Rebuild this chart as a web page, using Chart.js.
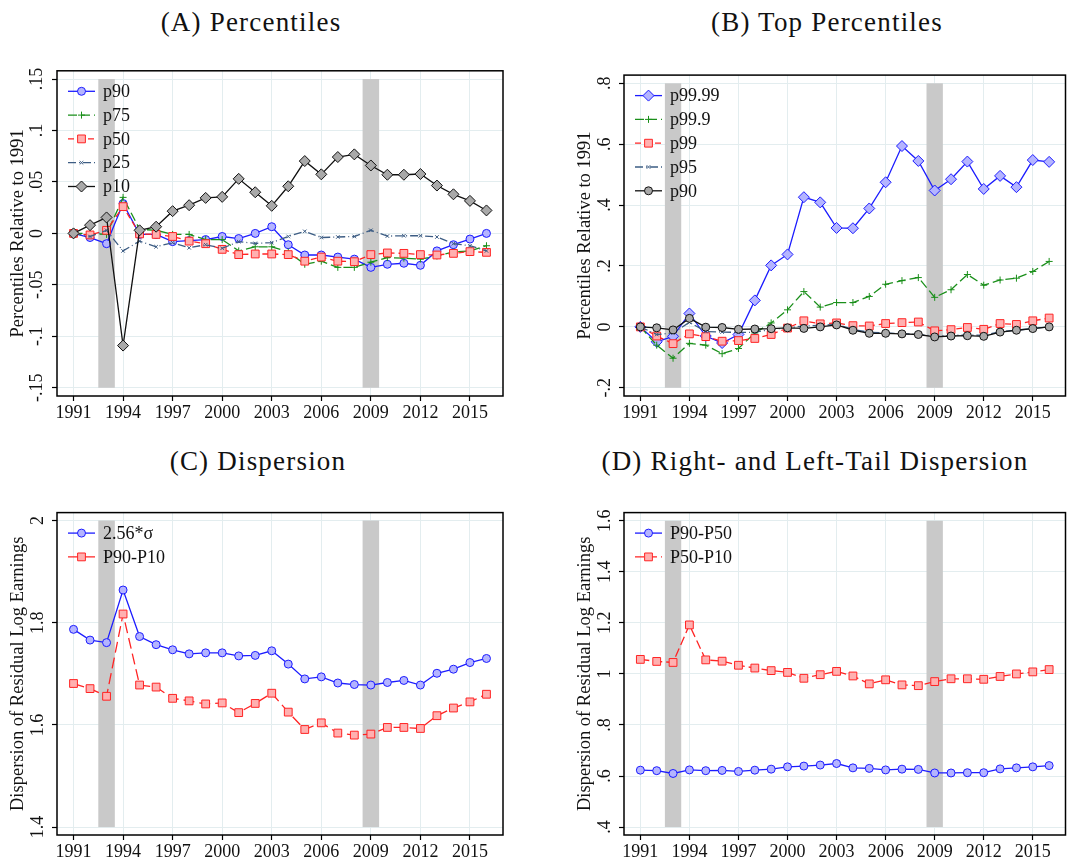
<!DOCTYPE html>
<html>
<head>
<meta charset="utf-8">
<script src="https://cdn.jsdelivr.net/npm/chart.js@4.4.1/dist/chart.umd.min.js"></script>
<style>
  html, body { margin: 0; padding: 0; background: #fff; overflow: hidden; }
  body { width: 1072px; height: 862px; position: relative; }
  .panel { position: absolute; }
  .ttl {
    position: absolute; width: 500px; text-align: center;
    font-family: "Liberation Serif", "Times New Roman", serif;
    font-size: 27px; line-height: 30px; letter-spacing: 1.2px; color: #111;
  }
</style>
</head>
<body>

<div class="ttl" style="left:1px;top:7px">(A) Percentiles</div>
<div class="ttl" style="left:577px;top:7px">(B) Top Percentiles</div>
<div class="ttl" style="left:8px;top:446px">(C) Dispersion</div>
<div class="ttl" style="left:565px;top:446px">(D) Right- and Left-Tail Dispersion</div>

<div class="panel" style="left:0;top:60px;width:520px;height:380px"><canvas id="chartA"></canvas></div>
<div class="panel" style="left:567px;top:60px;width:505px;height:380px"><canvas id="chartB"></canvas></div>
<div class="panel" style="left:0;top:499px;width:520px;height:380px"><canvas id="chartC"></canvas></div>
<div class="panel" style="left:567px;top:499px;width:505px;height:380px"><canvas id="chartD"></canvas></div>

<script>
// ── Data ──────────────────────────────────────────────────────
const years   = [1991, 1992, 1993, 1994, 1995, 1996, 1997, 1998, 1999, 2000, 2001, 2002, 2003,
                 2004, 2005, 2006, 2007, 2008, 2009, 2010, 2011, 2012, 2013, 2014, 2015, 2016];
const xTicks  = [1991, 1994, 1997, 2000, 2003, 2006, 2009, 2012, 2015];
const recessions = [[1992.5, 1993.5], [2008.5, 2009.5]];

// (A) Percentiles relative to 1991
const aP90 = [0, -0.004, -0.010, 0.029, -0.001, -0.001, -0.008, -0.007, -0.006, -0.003, -0.005, 0.000, 0.0065,
              -0.011, -0.021, -0.021, -0.023, -0.025, -0.033, -0.030, -0.029, -0.031, -0.017, -0.011, -0.0055, 0.000];
const aP75 = [0, 0.000, -0.001, 0.035, 0.004, 0.003, -0.001, -0.001, -0.006, -0.006, -0.017, -0.013, -0.013,
              -0.018, -0.030, -0.027, -0.033, -0.033, -0.028, -0.0235, -0.024, -0.025, -0.022, -0.018, -0.017, -0.012];
const aP50 = [0, -0.0015, 0.003, 0.026, -0.0005, -0.001, -0.003, -0.0075, -0.010, -0.0155, -0.0206, -0.020, -0.020,
              -0.0206, -0.027, -0.023, -0.027, -0.0275, -0.0206, -0.019, -0.0194, -0.0206, -0.021, -0.0194, -0.0177, -0.0184];
const aP25 = [0, -0.003, 0.003, -0.017, -0.0075, -0.013, -0.009, -0.014, -0.011, -0.0145, -0.008, -0.0097, -0.009,
              -0.003, 0.002, -0.004, -0.0035, -0.003, 0.003, -0.0026, -0.0023, -0.0023, -0.0035, -0.010, -0.012, -0.017];
const aP10 = [0, 0.008, 0.0155, -0.109, 0.003, 0.0065, 0.0216, 0.0274, 0.0345, 0.0355, 0.053, 0.040, 0.0268,
              0.0458, 0.0703, 0.0574, 0.0742, 0.0768, 0.066, 0.057, 0.057, 0.0577, 0.0465, 0.038, 0.0316, 0.0223];
const aYTicks = [-0.15, -0.1, -0.05, 0, 0.05, 0.1, 0.15];

// (B) Top percentiles relative to 1991
const bP9999 = [0, -0.049, -0.031, 0.044, -0.030, -0.053, -0.025, 0.087, 0.202, 0.238, 0.426, 0.409, 0.325,
                0.324, 0.389, 0.475, 0.594, 0.545, 0.448, 0.485, 0.543, 0.453, 0.496, 0.459, 0.548, 0.542];
const bP999  = [0, -0.060, -0.103, -0.054, -0.060, -0.088, -0.071, -0.020, 0.013, 0.056, 0.116, 0.065, 0.080,
                0.080, 0.100, 0.140, 0.152, 0.162, 0.097, 0.122, 0.172, 0.137, 0.154, 0.160, 0.182, 0.215];
const bP99   = [0, -0.030, -0.055, -0.023, -0.032, -0.047, -0.045, -0.038, -0.025, -0.004, 0.020, 0.010, 0.013,
                0.004, 0.003, 0.011, 0.014, 0.016, -0.013, -0.009, -0.002, -0.008, 0.011, 0.008, 0.020, 0.029];
const bP95   = [0, -0.025, -0.020, 0.015, -0.015, -0.017, -0.018, -0.018, -0.008, -0.003, 0.003, 0.005, 0.008,
                -0.008, -0.018, -0.020, -0.022, -0.025, -0.030, -0.028, -0.026, -0.028, -0.016, -0.011, -0.005, 0.000];
const bP90   = [0, -0.003, -0.010, 0.028, -0.001, -0.002, -0.008, -0.007, -0.006, -0.003, -0.005, 0.000, 0.0065,
                -0.011, -0.021, -0.021, -0.023, -0.025, -0.033, -0.030, -0.029, -0.031, -0.017, -0.011, -0.0055, 0.000];
const bYTicks = [-0.2, 0, 0.2, 0.4, 0.6, 0.8];

// (C) Dispersion
const cSigma  = [1.787, 1.766, 1.761, 1.864, 1.773, 1.757, 1.747, 1.739, 1.741, 1.741, 1.735, 1.736, 1.745,
                 1.719, 1.690, 1.694, 1.682, 1.679, 1.678, 1.683, 1.687, 1.678, 1.701, 1.709, 1.722, 1.730];
const cP90P10 = [1.681, 1.671, 1.656, 1.817, 1.678, 1.674, 1.652, 1.647, 1.641, 1.643, 1.624, 1.642, 1.662,
                 1.625, 1.591, 1.604, 1.584, 1.580, 1.582, 1.595, 1.595, 1.593, 1.618, 1.633, 1.645, 1.660];
const cYTicks = [1.4, 1.6, 1.8, 2];

// (D) Right- and left-tail dispersion
const dP90P50 = [0.623, 0.621, 0.610, 0.624, 0.621, 0.622, 0.618, 0.623, 0.627, 0.636, 0.639, 0.643, 0.649,
                 0.632, 0.630, 0.624, 0.627, 0.626, 0.612, 0.612, 0.613, 0.613, 0.628, 0.632, 0.636, 0.641];
const dP50P10 = [1.057, 1.049, 1.045, 1.192, 1.055, 1.050, 1.034, 1.023, 1.013, 1.006, 0.983, 0.997, 1.010,
                 0.992, 0.961, 0.977, 0.957, 0.954, 0.970, 0.981, 0.981, 0.979, 0.990, 1.000, 1.008, 1.017];
const dYTicks = [0.4, 0.6, 0.8, 1, 1.2, 1.4, 1.6];

// ── Styles ────────────────────────────────────────────────────
const FONT  = '"Liberation Serif", "Times New Roman", serif';
const GRID  = '#e3edef';
const BLUE  = '#1c1cff', BLUE_FILL  = '#b4b4ff';
const RED   = '#ff2424', RED_FILL   = '#ffb0b0';
const GREEN = '#1a8f1a';
const SLATE = '#3d5d84';
const BLACK = '#111111', GRAY_FILL  = '#a9a9a9';

Chart.defaults.font.family = FONT;
Chart.defaults.color = '#000';

const fmt = v => String(+Number(v).toFixed(2)).replace(/^(-?)0\./, '$1.');

function series(label, vals, color, dash, pointStyle, radius, fill, order) {
    return {
        label,
        data: years.map((yr, i) => ({ x: yr, y: vals[i] })),
        borderColor: color,
        borderWidth: 1.3,
        borderDash: dash,
        pointStyle,
        pointRadius: radius,
        pointHoverRadius: radius,
        pointBorderColor: color,
        pointBackgroundColor: fill,
        pointBorderWidth: 1,
        tension: 0,
        order,
    };
}

// ── Plugins ───────────────────────────────────────────────────
const bandPlugin = {
    id: 'bands',
    beforeDatasetsDraw(chart, args, opts) {
        const { ctx, scales: { x, y } } = chart;
        ctx.save();
        ctx.fillStyle = '#c9c9c9';
        const yTop = y.getPixelForValue(opts.top), yBot = y.getPixelForValue(opts.bottom);
        recessions.forEach(([a, b]) => {
            const x0 = x.getPixelForValue(a), x1 = x.getPixelForValue(b);
            ctx.fillRect(x0, yTop, x1 - x0, yBot - yTop);
        });
        ctx.restore();
    },
};

const framePlugin = {
    id: 'frame',
    afterDraw(chart) {
        const { ctx, chartArea: a } = chart;
        ctx.save();
        ctx.strokeStyle = '#000';
        ctx.lineWidth = 1.5;
        ctx.strokeRect(a.left, a.top, a.right - a.left, a.bottom - a.top);
        ctx.restore();
    },
};

const legendPlugin = {
    id: 'innerLegend',
    afterDraw(chart) {
        const { ctx, chartArea: a } = chart;
        ctx.save();
        chart.data.datasets.forEach((ds, i) => {
            const y = a.top + 20.5 + i * 23.8;
            const x0 = a.left + 11;
            ctx.strokeStyle = ds.borderColor;
            ctx.lineWidth = ds.borderWidth;
            ctx.setLineDash(ds.borderDash || []);
            ctx.beginPath();
            ctx.moveTo(x0, y);
            ctx.lineTo(x0 + 27, y);
            ctx.stroke();
            ctx.setLineDash([]);
            ctx.strokeStyle = ds.pointBorderColor;
            ctx.fillStyle = ds.pointBackgroundColor;
            ctx.lineWidth = ds.pointBorderWidth;
            Chart.helpers.drawPoint(ctx, {
                pointStyle: ds.pointStyle, radius: ds.pointRadius, rotation: 0, borderWidth: ds.pointBorderWidth,
            }, x0 + 13.5, y);
            ctx.fillStyle = '#111';
            ctx.font = '18px ' + FONT;
            ctx.textAlign = 'left';
            ctx.textBaseline = 'middle';
            ctx.fillText(ds.label, x0 + 35, y + 1);
        });
        ctx.restore();
    },
};

// ── Panel builder ─────────────────────────────────────────────
function makePanel(id, { datasets, yMin, yMax, yTicks, yTitle, labelPad, padRight, band }) {
    const grid = { color: GRID, lineWidth: 1, tickColor: '#000', tickLength: 5, tickWidth: 1.2 };
    new Chart(document.getElementById(id), {
        type: 'line',
        data: { datasets },
        options: {
            responsive: true,
            maintainAspectRatio: false,
            animation: false,
            layout: { padding: { top: 10, right: padRight, bottom: 0, left: 0 } },
            plugins: {
                legend: { display: false },
                tooltip: { enabled: false },
                bands: band,
            },
            scales: {
                x: {
                    type: 'linear', min: 1990, max: 2017,
                    afterBuildTicks: s => { s.ticks = xTicks.map(v => ({ value: v })); },
                    afterFit: s => { s.height = 44; },
                    grid, border: { display: false },
                    ticks: { font: { size: 18 }, color: '#111', padding: 1, maxRotation: 0, autoSkip: false,
                             callback: v => String(v) },
                },
                y: {
                    type: 'linear', min: yMin, max: yMax,
                    afterBuildTicks: s => { s.ticks = yTicks.map(v => ({ value: v })); },
                    afterFit: s => { s.width = 57; },
                    grid, border: { display: false },
                    ticks: { font: { size: 18 }, color: '#111', minRotation: 90, maxRotation: 90,
                             crossAlign: 'center', padding: labelPad, callback: fmt },
                    title: { display: true, text: yTitle, color: '#111', font: { size: 18.5 },
                             padding: { top: 7, bottom: 0 } },
                },
            },
        },
        plugins: [bandPlugin, legendPlugin, framePlugin],
    });
}

// ── Charts ────────────────────────────────────────────────────
makePanel('chartA', {
    datasets: [
        series('p90', aP90, BLUE,  [],           'circle',   4,   BLUE_FILL, 5),
        series('p75', aP75, GREEN, [9, 4],       'cross',    3.5, GREEN,     4),
        series('p50', aP50, RED,   [6, 4],       'rect',     5.5, RED_FILL,  3),
        series('p25', aP25, SLATE, [8, 3, 1, 3], 'crossRot', 2.5, SLATE,     2),
        series('p10', aP10, BLACK, [],           'rectRot',  5.5, GRAY_FILL, 1),
    ],
    yMin: -0.158, yMax: 0.158, yTicks: aYTicks, yTitle: 'Percentiles Relative to 1991',
    labelPad: 0, padRight: 17, band: { top: 0.15, bottom: -0.15 },
});

makePanel('chartB', {
    datasets: [
        series('p99.99', bP9999, BLUE,  [],           'rectRot',  5.5, BLUE_FILL, 5),
        series('p99.9',  bP999,  GREEN, [9, 4],       'cross',    3.5, GREEN,     4),
        series('p99',    bP99,   RED,   [6, 4],       'rect',     5.5, RED_FILL,  3),
        series('p95',    bP95,   SLATE, [8, 3, 1, 3], 'crossRot', 2.5, SLATE,     2),
        series('p90',    bP90,   BLACK, [],           'circle',   4,   GRAY_FILL, 1),
    ],
    yMin: -0.227, yMax: 0.827, yTicks: bYTicks, yTitle: 'Percentiles Relative to 1991',
    labelPad: 4.3, padRight: 2.3, band: { top: 0.8, bottom: -0.2 },
});

makePanel('chartC', {
    datasets: [
        series('2.56*σ',  cSigma,  BLUE, [],       'circle', 4,   BLUE_FILL, 2),
        series('P90-P10', cP90P10, RED,  [11, 5],  'rect',   5.5, RED_FILL,  1),
    ],
    yMin: 1.3845, yMax: 2.0155, yTicks: cYTicks, yTitle: 'Dispersion of Residual Log Earnings',
    labelPad: 2.8, padRight: 17, band: { top: 2, bottom: 1.4 },
});

makePanel('chartD', {
    datasets: [
        series('P90-P50', dP90P50, BLUE, [],      'circle', 4,   BLUE_FILL, 2),
        series('P50-P10', dP50P10, RED,  [9, 4],  'rect',   5.5, RED_FILL,  1),
    ],
    yMin: 0.369, yMax: 1.632, yTicks: dYTicks, yTitle: 'Dispersion of Residual Log Earnings',
    labelPad: 2.8, padRight: 2.3, band: { top: 1.6, bottom: 0.4 },
});
</script>
</body>
</html>
